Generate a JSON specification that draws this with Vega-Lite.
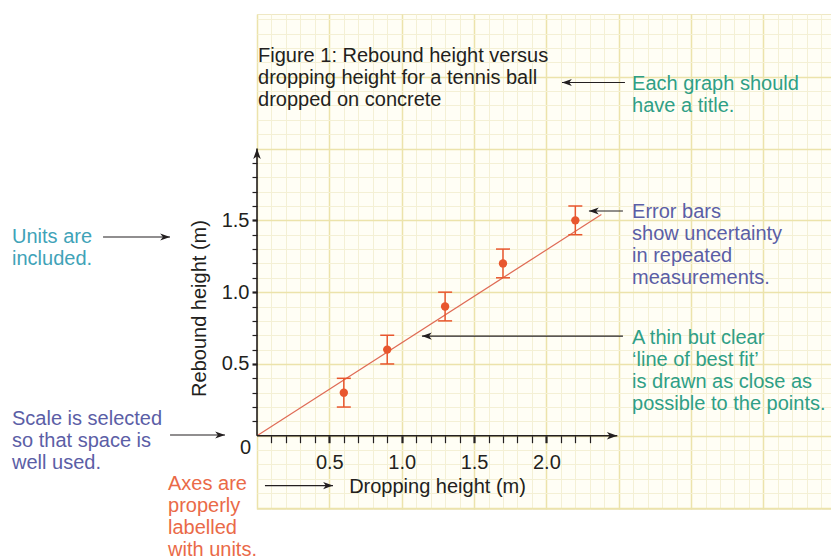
{
  "$schema": "https://vega.github.io/schema/vega-lite/v6.json",
  "width": 574,
  "height": 495,
  "autosize": {"type": "none"},
  "padding": {"left": 257, "top": 14, "right": 0, "bottom": 50},
  "background": "white",
  "config": {
    "view": {"fill": "#fffef5", "stroke": "#efe8c4", "strokeWidth": 1},
    "font": "Liberation Sans"
  },
  "datasets": {
    "fit": [{"x": 0, "y": 0}, {"x": 2.38, "y": 1.54}],
    "measurements": [
      {"x": 0.6, "y": 0.3, "lo": 0.2, "hi": 0.4},
      {"x": 0.9, "y": 0.6, "lo": 0.5, "hi": 0.7},
      {"x": 1.3, "y": 0.9, "lo": 0.8, "hi": 1.0},
      {"x": 1.7, "y": 1.2, "lo": 1.1, "hi": 1.3},
      {"x": 2.2, "y": 1.5, "lo": 1.4, "hi": 1.6}
    ],
    "axislines": [
      {"x": 0, "y": 0, "x2": 2.49, "y2": 0, "dir": "right"},
      {"x": 0, "y": 0, "x2": 0, "y2": 2.0, "dir": "up"}
    ],
    "arrows": [
      {"x": 2.543, "x2": 2.108, "y": 2.46, "dir": "left"},
      {"x": -1.064, "x2": -0.601, "y": 1.384, "dir": "right"},
      {"x": -0.601, "x2": -0.221, "y": 0.005, "dir": "right"},
      {"x": 0.055, "x2": 0.525, "y": -0.347, "dir": "right"},
      {"x": 2.529, "x2": 2.294, "y": 1.565, "dir": "left"},
      {"x": 2.529, "x2": 1.14, "y": 0.694, "dir": "left"}
    ],
    "notes": [
      {"text": "Figure 1: Rebound height versus\ndropping height for a tennis ball\ndropped on concrete", "x": 0.007, "y": 2.602, "topic": "figure"},
      {"text": "Each graph should\nhave a title.", "x": 2.592, "y": 2.407, "topic": "title"},
      {"text": "Units are\nincluded.", "x": -1.693, "y": 1.342, "topic": "units"},
      {"text": "Scale is selected\nso that space is\nwell used.", "x": -1.693, "y": 0.0745, "topic": "scale"},
      {"text": "Axes are\nproperly\nlabelled\nwith units.", "x": -0.615, "y": -0.375, "topic": "labels"},
      {"text": "Error bars\nshow uncertainty\nin repeated\nmeasurements.", "x": 2.592, "y": 1.516, "topic": "errors"},
      {"text": "A thin but clear\n‘line of best fit’\nis drawn as close as\npossible to the points.", "x": 2.592, "y": 0.639, "topic": "fit"},
      {"text": "0", "x": -0.117, "y": -0.127, "topic": "origin"}
    ]
  },
  "layer": [
    {
      "data": {"name": "fit"},
      "mark": {"type": "line", "color": "#df6b55", "strokeWidth": 1.2},
      "encoding": {
        "x": {
          "field": "x", "type": "quantitative",
          "scale": {"domain": [0, 3.967], "nice": false, "zero": false},
          "axis": {
            "orient": "bottom", "offset": -73.3,
            "title": "Dropping height (m)", "titleX": 180, "titleY": 57,
            "titleAlign": "center", "titleBaseline": "alphabetic",
            "titleFont": "Liberation Sans", "titleFontSize": 20, "titleFontWeight": "normal", "titleColor": "#231f20",
            "values": [0,0.1,0.2,0.3,0.4,0.5,0.6,0.7,0.8,0.9,1,1.1,1.2,1.3,1.4,1.5,1.6,1.7,1.8,1.9,2,2.1,2.2,2.3,2.4,2.5,2.6,2.7,2.8,2.9,3,3.1,3.2,3.3,3.4,3.5,3.6,3.7,3.8,3.9],
            "tickCount": 1000,
            "domain": false,
            "grid": true,
            "gridColor": {"condition": {"test": "abs(datum.value*2 - round(datum.value*2)) < 0.01", "value": "#ece3ab"}, "value": "#f4f0d5"},
            "gridWidth": {"condition": {"test": "abs(datum.value*2 - round(datum.value*2)) < 0.01", "value": 1.5}, "value": 1},
            "ticks": true, "tickColor": "#231f20", "tickSize": 7,
            "tickWidth": {"condition": {"test": "abs(datum.value*2 - round(datum.value*2)) < 0.01", "value": 2.2}, "value": 1.2},
            "tickOpacity": {"condition": {"test": "datum.value < 0.05 || datum.value > 2.35", "value": 0}, "value": 1},
            "labelExpr": "(datum.value > 0.4 && datum.value < 2.1 && abs(datum.value*2 - round(datum.value*2)) < 0.01) ? format(datum.value, '.1f') : ''",
            "labelFont": "Liberation Sans", "labelFontSize": 20, "labelColor": "#231f20",
            "labelPadding": 10, "labelFlush": false, "labelOverlap": false, "labelBound": false
          }
        },
        "y": {
          "field": "y", "type": "quantitative",
          "scale": {"domain": [-0.51, 2.937], "nice": false, "zero": false},
          "axis": {
            "orient": "left", "offset": 0,
            "title": "Rebound height (m)", "titleAngle": 270, "titleX": -52, "titleY": 294,
            "titleAlign": "center", "titleBaseline": "alphabetic",
            "titleFont": "Liberation Sans", "titleFontSize": 20, "titleFontWeight": "normal", "titleColor": "#231f20",
            "values": [-0.5,-0.4,-0.3,-0.2,-0.1,0,0.1,0.2,0.3,0.4,0.5,0.6,0.7,0.8,0.9,1,1.1,1.2,1.3,1.4,1.5,1.6,1.7,1.8,1.9,2,2.1,2.2,2.3,2.4,2.5,2.6,2.7,2.8,2.9],
            "tickCount": 1000,
            "domain": false,
            "grid": true,
            "gridColor": {"condition": {"test": "abs(datum.value*2 - round(datum.value*2)) < 0.01", "value": "#ece3ab"}, "value": "#f4f0d5"},
            "gridWidth": {"condition": {"test": "abs(datum.value*2 - round(datum.value*2)) < 0.01", "value": 1.5}, "value": 1},
            "ticks": true, "tickColor": "#231f20", "tickSize": 5,
            "tickWidth": {"condition": {"test": "abs(datum.value*2 - round(datum.value*2)) < 0.01", "value": 2.2}, "value": 1.2},
            "tickOpacity": {"condition": {"test": "datum.value < 0.05 || datum.value > 1.95", "value": 0}, "value": 1},
            "labelExpr": "(datum.value > 0.4 && datum.value < 1.6 && abs(datum.value*2 - round(datum.value*2)) < 0.01) ? format(datum.value, '.1f') : ''",
            "labelFont": "Liberation Sans", "labelFontSize": 20, "labelColor": "#231f20",
            "labelPadding": 3, "labelFlush": false, "labelOverlap": false, "labelBound": false
          }
        }
      }
    },
    {
      "data": {"name": "axislines"},
      "mark": {"type": "rule", "color": "#231f20", "strokeWidth": 1.6},
      "encoding": {
        "x": {"field": "x", "type": "quantitative"},
        "y": {"field": "y", "type": "quantitative"},
        "x2": {"field": "x2"},
        "y2": {"field": "y2"}
      }
    },
    {
      "data": {"name": "axislines"},
      "mark": {"type": "point", "filled": true, "color": "#231f20", "opacity": 1, "size": 90, "strokeWidth": 0},
      "encoding": {
        "x": {"field": "x2", "type": "quantitative"},
        "y": {"field": "y2", "type": "quantitative"},
        "shape": {
          "field": "dir", "type": "nominal", "legend": null,
          "scale": {"domain": ["right", "left", "up"], "range": ["M0,0L-2.2,-0.8L-1.6,0L-2.2,0.8Z", "M0,0L2.2,-0.8L1.6,0L2.2,0.8Z", "M0,0L-0.8,2.2L0,1.6L0.8,2.2Z"]}
        }
      }
    },
    {
      "data": {"name": "arrows"},
      "mark": {"type": "rule", "color": "#231f20", "strokeWidth": 1.1},
      "encoding": {
        "x": {"field": "x", "type": "quantitative"},
        "x2": {"field": "x2"},
        "y": {"field": "y", "type": "quantitative"}
      }
    },
    {
      "data": {"name": "arrows"},
      "mark": {"type": "point", "filled": true, "color": "#231f20", "opacity": 1, "size": 80, "strokeWidth": 0},
      "encoding": {
        "x": {"field": "x2", "type": "quantitative"},
        "y": {"field": "y", "type": "quantitative"},
        "shape": {"field": "dir", "type": "nominal", "legend": null}
      }
    },
    {
      "data": {"name": "measurements"},
      "mark": {"type": "rule", "color": "#e8562e", "strokeWidth": 1.5},
      "encoding": {
        "x": {"field": "x", "type": "quantitative"},
        "y": {"field": "lo", "type": "quantitative"},
        "y2": {"field": "hi"}
      }
    },
    {
      "data": {"name": "measurements"},
      "mark": {"type": "tick", "orient": "horizontal", "color": "#e8562e", "size": 14, "thickness": 1.5, "opacity": 1},
      "encoding": {
        "x": {"field": "x", "type": "quantitative"},
        "y": {"field": "lo", "type": "quantitative"}
      }
    },
    {
      "data": {"name": "measurements"},
      "mark": {"type": "tick", "orient": "horizontal", "color": "#e8562e", "size": 14, "thickness": 1.5, "opacity": 1},
      "encoding": {
        "x": {"field": "x", "type": "quantitative"},
        "y": {"field": "hi", "type": "quantitative"}
      }
    },
    {
      "data": {"name": "measurements"},
      "mark": {"type": "circle", "color": "#e8562e", "size": 70, "opacity": 1},
      "encoding": {
        "x": {"field": "x", "type": "quantitative"},
        "y": {"field": "y", "type": "quantitative"}
      }
    },
    {
      "data": {"name": "notes"},
      "mark": {"type": "text", "align": "left", "baseline": "alphabetic", "lineBreak": "\n", "lineHeight": 22, "font": "Liberation Sans", "fontSize": 20},
      "encoding": {
        "x": {"field": "x", "type": "quantitative"},
        "y": {"field": "y", "type": "quantitative"},
        "text": {"field": "text", "type": "nominal"},
        "color": {
          "field": "topic", "type": "nominal", "legend": null,
          "scale": {"domain": ["figure", "origin", "title", "units", "scale", "labels", "errors", "fit"], "range": ["#231f20", "#231f20", "#2f9f86", "#3fa3b8", "#5b5ea6", "#ea6a48", "#5b5ea6", "#2f9f86"]}
        }
      }
    }
  ]
}
